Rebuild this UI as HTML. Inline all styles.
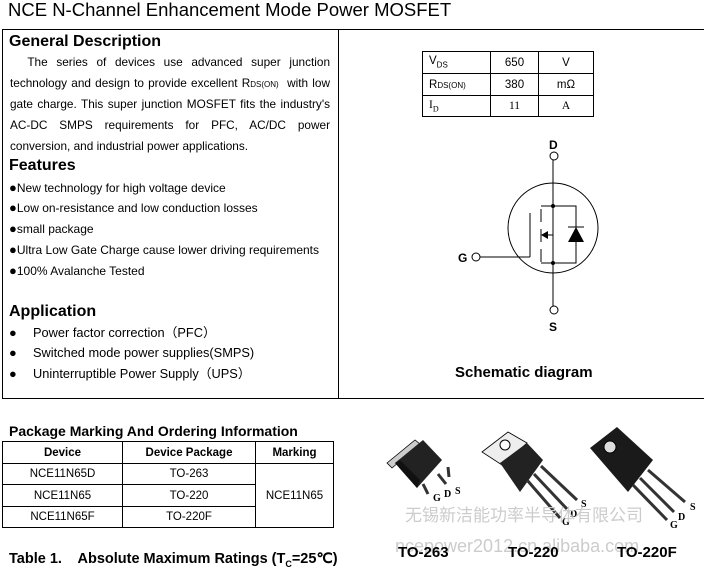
<!DOCTYPE html>
<html><head><meta charset="utf-8"><style>
body{margin:0;width:704px;height:568px;background:#fff;position:relative;overflow:hidden;font-family:"Liberation Sans",Arial,sans-serif;color:#000}
.a{position:absolute;white-space:nowrap;line-height:16px}
.h{font-weight:bold;font-size:16px}
.p{font-size:11.8px;width:320px;text-align:justify;text-align-last:justify}
.f{font-size:12px}
.f b{font-size:13px;font-weight:normal}
.ap{font-size:12.8px}
.ap span{position:absolute;left:24px;top:0}
table{border-collapse:collapse;position:absolute}
td{border:1px solid #000;padding:0;text-align:center;font-size:11.5px}
</style></head><body>
<div class="a" style="left:8px;top:0px;font-size:18.5px;line-height:20px">NCE N-Channel Enhancement Mode Power MOSFET</div>
<div class="a" style="left:2px;top:29px;width:710px;height:368px;border:1px solid #000;border-right:none"></div>
<div class="a" style="left:338px;top:29px;width:1px;height:369px;background:#000"></div>

<div class="a h" style="left:9px;top:34px">General Description</div>
<div class="a p" style="left:10px;top:54px">&nbsp;&nbsp;The series of devices use advanced super junction</div>
<div class="a p" style="left:10px;top:75px">technology and design to provide excellent R<span style="font-size:8px">DS(ON)</span>&nbsp; with low</div>
<div class="a p" style="left:10px;top:96px">gate charge. This super junction MOSFET fits the industry's</div>
<div class="a p" style="left:10px;top:117px">AC-DC SMPS requirements for PFC, AC/DC power</div>
<div class="a" style="left:10px;top:138px;font-size:11.8px">conversion, and industrial power applications.</div>
<div class="a h" style="left:9px;top:158px">Features</div>
<div class="a f" style="left:9px;top:180px"><b>●</b>New technology for high voltage device</div>
<div class="a f" style="left:9px;top:200px"><b>●</b>Low on-resistance and low conduction losses</div>
<div class="a f" style="left:9px;top:221px"><b>●</b>small package</div>
<div class="a f" style="left:9px;top:242px"><b>●</b>Ultra Low Gate Charge cause lower driving requirements</div>
<div class="a f" style="left:9px;top:263px"><b>●</b>100% Avalanche Tested</div>
<div class="a h" style="left:9px;top:304px">Application</div>
<div class="a ap" style="left:9px;top:325px">●<span>Power factor correction（PFC）</span></div>
<div class="a ap" style="left:9px;top:345px">●<span>Switched mode power supplies(SMPS)</span></div>
<div class="a ap" style="left:9px;top:366px">●<span>Uninterruptible Power Supply（UPS）</span></div>

<table style="left:422px;top:51px;width:172px">
<tr style="height:22px"><td style="width:61px;text-align:left;padding-left:6px">V<sub style="font-size:8px">DS</sub></td><td style="width:47px">650</td><td>V</td></tr>
<tr style="height:22px"><td style="text-align:left;padding-left:6px">R<span style="font-size:8px">DS(ON)</span></td><td>380</td><td>mΩ</td></tr>
<tr style="height:21px"><td style="text-align:left;padding-left:6px;font-family:'Liberation Serif',serif">I<sub style="font-size:8px">D</sub></td><td style="font-family:'Liberation Serif',serif">11</td><td style="font-family:'Liberation Serif',serif">A</td></tr>
</table>

<svg class="a" style="left:0;top:0" width="704" height="568">
<g stroke="#000" stroke-width="1" fill="none">
<circle cx="553" cy="228" r="45"/>
<circle cx="554" cy="156" r="4"/>
<circle cx="554" cy="310" r="4"/>
<circle cx="476" cy="257" r="4"/>
<line x1="553" y1="160" x2="553" y2="235"/>
<line x1="553" y1="235" x2="553" y2="306"/>
<line x1="480" y1="257" x2="530" y2="257"/>
<line x1="530" y1="213" x2="530" y2="257"/>
<line x1="541" y1="209" x2="541" y2="222"/>
<line x1="541" y1="229" x2="541" y2="242"/>
<line x1="541" y1="249" x2="541" y2="262"/>
<line x1="541" y1="206" x2="553" y2="206"/>
<line x1="546" y1="235" x2="553" y2="235"/>
<line x1="541" y1="263" x2="553" y2="263"/>
<polyline points="553,206 576,206 576,263 553,263"/>
<line x1="568" y1="227" x2="584" y2="227"/>
</g>
<polygon points="541,235 548,231 548,239" fill="#000"/>
<polygon points="576,227 568,242 584,242" fill="#000"/>
<circle cx="553" cy="206" r="2" fill="#000"/>
<circle cx="553" cy="263" r="2" fill="#000"/>
<text x="549" y="149" font-size="12" font-weight="bold" font-family="Liberation Sans">D</text>
<text x="458" y="262" font-size="12" font-weight="bold" font-family="Liberation Sans">G</text>
<text x="549" y="331" font-size="12" font-weight="bold" font-family="Liberation Sans">S</text>
<text x="455" y="377" font-size="15" font-weight="bold" font-family="Liberation Sans">Schematic diagram</text>

<polygon points="387,463 415,440 420,444 392,468" fill="#ccc" stroke="#000" stroke-width="0.8"/>
<polygon points="395,463 423,440 442,460 417,488" fill="#222"/>
<polygon points="395,463 417,488 420,480 400,460" fill="#111"/>
<g stroke="#333" stroke-width="3" fill="none"><path d="M423,484 L428,494"/><path d="M438,474 L446,484"/><path d="M448,467 L449,477"/></g>
<polygon points="482,452 508,432 527,443 502,465" fill="#eee" stroke="#000" stroke-width="0.8"/>
<circle cx="505" cy="445" r="5" fill="#fff" stroke="#000"/>
<polygon points="500,463 527,443 543,460 520,492" fill="#222"/>
<g stroke="#333" stroke-width="3"><line x1="527" y1="480" x2="560" y2="518"/><line x1="534" y1="474" x2="567" y2="509"/><line x1="541" y1="466" x2="577" y2="500"/></g>
<polygon points="590,448 617,427 653,460 628,492" fill="#1a1a1a"/>
<circle cx="610" cy="447" r="6" fill="#ddd" stroke="#000"/>
<g stroke="#333" stroke-width="3"><line x1="633" y1="485" x2="667" y2="520"/><line x1="640" y1="478" x2="674" y2="512"/><line x1="648" y1="470" x2="685" y2="502"/></g>
<g font-family="Liberation Serif" font-size="10" font-weight="bold">
<text x="433" y="501">G</text><text x="444" y="497">D</text><text x="455" y="494">S</text>
<text x="562" y="525">G</text><text x="570" y="517">D</text><text x="581" y="507">S</text>
<text x="670" y="528">G</text><text x="678" y="520">D</text><text x="690" y="510">S</text></g>
<text x="405" y="521" font-size="17" fill="#ccc" font-family="Noto Sans CJK SC,sans-serif">无锡新洁能功率半导体有限公司</text>
<text x="395" y="552" font-size="18" fill="#ccc" font-family="Liberation Sans">ncepower2012.cn.alibaba.com</text>
<g font-family="Liberation Sans" font-size="15" font-weight="bold">
<text x="398" y="557">TO-263</text><text x="508" y="557">TO-220</text><text x="617" y="557">TO-220F</text></g>
</svg>

<div class="a" style="left:9px;top:423px;font-size:14px;font-weight:bold">Package Marking And Ordering Information</div>
<table style="left:2px;top:441px;width:332px">
<tr style="height:22px"><td style="width:119px;font-weight:bold">Device</td><td style="width:132px;font-weight:bold">Device Package</td><td style="font-weight:bold">Marking</td></tr>
<tr style="height:21px"><td>NCE11N65D</td><td>TO-263</td><td rowspan="3">NCE11N65</td></tr>
<tr style="height:22px"><td>NCE11N65</td><td>TO-220</td></tr>
<tr style="height:21px"><td>NCE11N65F</td><td>TO-220F</td></tr>
</table>
<div class="a" style="left:9px;top:551px;font-size:14.5px;font-weight:bold">Table 1.&nbsp;&nbsp;&nbsp; Absolute Maximum Ratings (T<sub style="font-size:9px">C</sub>=25℃)</div>
</body></html>
